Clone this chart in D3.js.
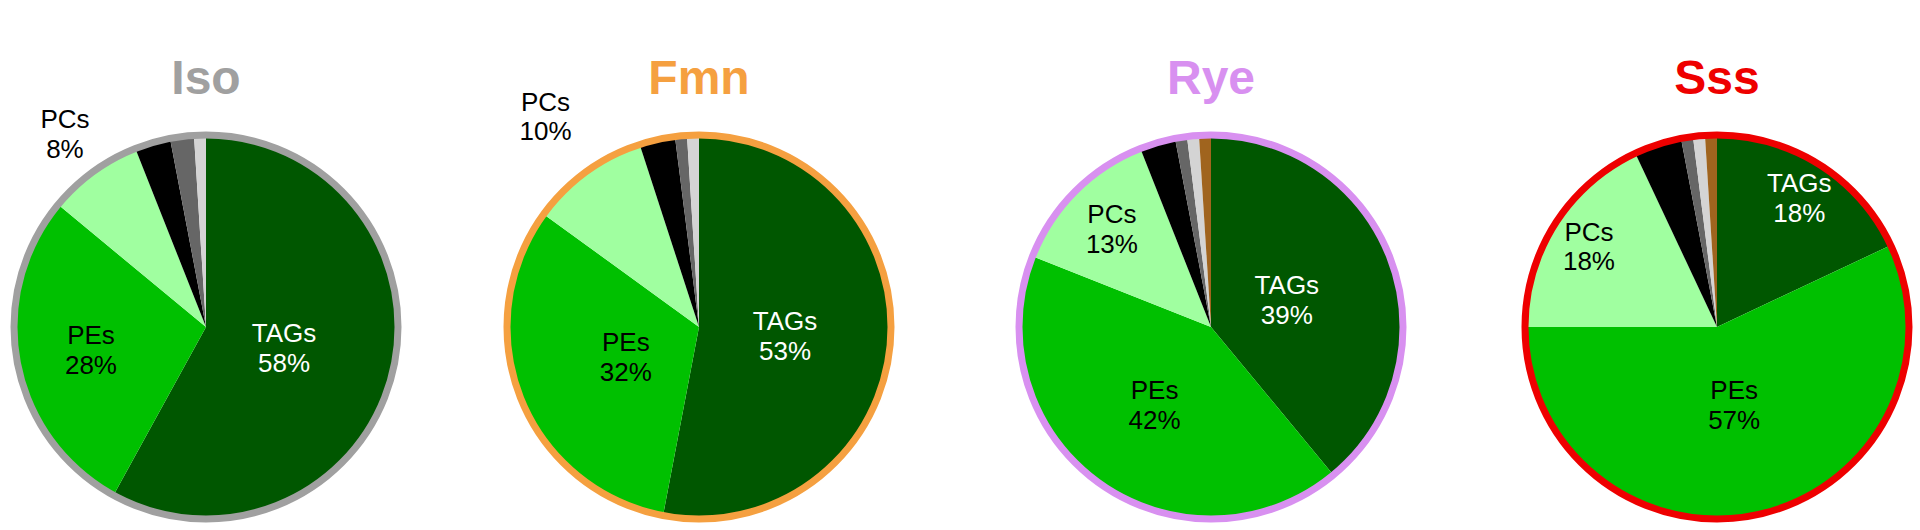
<!DOCTYPE html>
<html><head><meta charset="utf-8">
<script src="https://cdn.jsdelivr.net/npm/d3@7"></script>
<style>body{margin:0;background:#fff}text{font-family:"Liberation Sans",Arial,sans-serif}</style>
</head><body>
<svg id="chart" width="1920" height="530"></svg>
<script>
// lipid classes, clockwise from 12 o'clock
const classes = ["TAGs", "PEs", "PCs", "other1", "other2", "other3", "other4"];
const classColors = ["#005700", "#00c000", "#a0ffa0", "#000000", "#666666", "#d4d4d4", "#a0641e"];

const samples = ["Iso", "Fmn", "Rye", "Sss"];
const sampleColors = ["#a0a0a0", "#f5a040", "#d890f0", "#ee0000"];

const isoValues = [58, 28, 8, 3, 2, 1, 0];
const fmnValues = [53, 32, 10, 3, 1, 1, 0];
const ryeValues = [39, 42, 13, 3, 1, 1, 1];
const sssValues = [18, 57, 18, 4, 1, 1, 1];
const allValues = [isoValues, fmnValues, ryeValues, sssValues];

// label distance as fraction of radius (TAGs, PEs, PCs)
const labelRadius = [[0.42, 0.61, 1.25], [0.45, 0.41, 1.36], [0.42, 0.5, 0.73], [0.8, 0.41, 0.79]];

const svg = d3.select("#chart");
const r = 192, cy = 327;
const x = d3.scaleOrdinal().domain(samples).range([206, 699, 1211, 1717]);

const pie = d3.pie().sort(null).value(d => d);
const arc = d3.arc().innerRadius(0).outerRadius(r);

samples.forEach((s, i) => {
  const g = svg.append("g").attr("transform", `translate(${x(s)},${cy})`);
  const arcs = pie(allValues[i]);
  g.selectAll("path").data(arcs).join("path")
    .attr("d", arc)
    .attr("fill", (d, j) => classColors[j]);
  g.append("circle").attr("r", r).attr("fill", "none")
    .attr("stroke", sampleColors[i]).attr("stroke-width", 7);

  arcs.slice(0, 3).forEach((d, j) => {
    const a = (d.startAngle + d.endAngle) / 2;
    const k = labelRadius[i][j] * r;
    const t = g.append("text")
      .attr("x", Math.sin(a) * k).attr("y", -Math.cos(a) * k)
      .attr("text-anchor", "middle")
      .attr("font-size", 26)
      .attr("fill", j === 0 ? "#fff" : "#000");
    t.append("tspan").attr("x", Math.sin(a) * k).attr("dy", "-0.2em").text(classes[j]);
    t.append("tspan").attr("x", Math.sin(a) * k).attr("dy", "1.15em").text(d.data + "%");
  });

  svg.append("text")
    .attr("x", x(s)).attr("y", 94)
    .attr("text-anchor", "middle")
    .attr("font-size", 48).attr("font-weight", "bold")
    .attr("fill", sampleColors[i])
    .text(s);
});
</script>
</body></html>
